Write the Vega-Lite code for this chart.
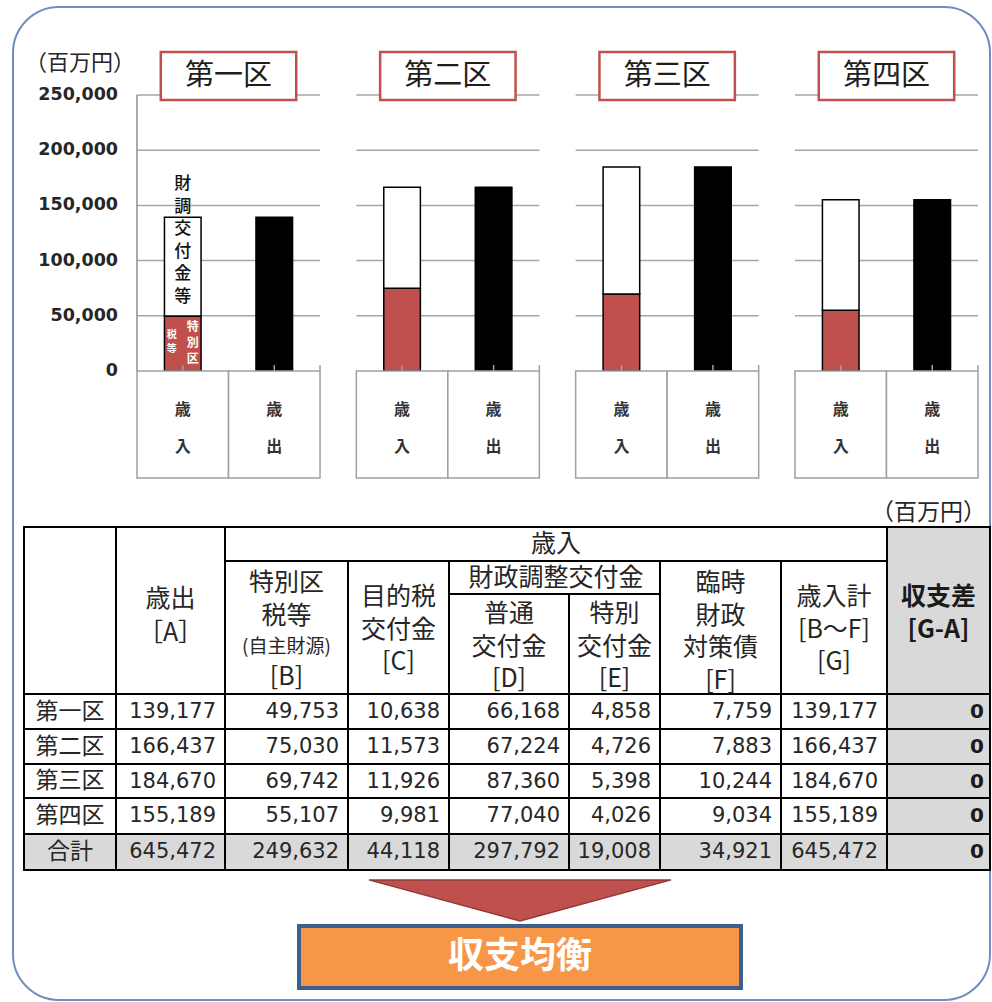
{
"$schema":"https://vega.github.io/schema/vega-lite/v6.json",
"width":977,"height":993,
"padding":{"left":13,"top":7,"right":2,"bottom":2},
"autosize":{"type":"none"},
"background":"#ffffff",
"view":{"stroke":"#6f8dbf","strokeWidth":2,"cornerRadius":46,"fill":"#ffffff"},
"config":{"text":{"font":"Noto Sans CJK JP"}},
"datasets":{
"districts":[{"区":"第一区"},{"区":"第二区"},{"区":"第三区"},{"区":"第四区"}],
"axis":[{"区":"第一区","目盛":0},{"区":"第一区","目盛":50000},{"区":"第一区","目盛":100000},{"区":"第一区","目盛":150000},{"区":"第一区","目盛":200000},{"区":"第一区","目盛":250000}],
"unit":[{"区":"第一区","単位":"（百万円）"}],
"grid":[
{"区":"第一区","目盛":50000},{"区":"第一区","目盛":100000},{"区":"第一区","目盛":150000},{"区":"第一区","目盛":200000},{"区":"第一区","目盛":250000},
{"区":"第二区","目盛":50000},{"区":"第二区","目盛":100000},{"区":"第二区","目盛":150000},{"区":"第二区","目盛":200000},{"区":"第二区","目盛":250000},
{"区":"第三区","目盛":50000},{"区":"第三区","目盛":100000},{"区":"第三区","目盛":150000},{"区":"第三区","目盛":200000},{"区":"第三区","目盛":250000},
{"区":"第四区","目盛":50000},{"区":"第四区","目盛":100000},{"区":"第四区","目盛":150000},{"区":"第四区","目盛":200000},{"区":"第四区","目盛":250000}],
"bars":[
{"区":"第一区","側":"歳入","内訳":"特別区税等","金額":49753},{"区":"第一区","側":"歳入","内訳":"財調交付金等","金額":89424},{"区":"第一区","側":"歳出","内訳":"歳出","金額":139177},
{"区":"第二区","側":"歳入","内訳":"特別区税等","金額":75030},{"区":"第二区","側":"歳入","内訳":"財調交付金等","金額":91407},{"区":"第二区","側":"歳出","内訳":"歳出","金額":166437},
{"区":"第三区","側":"歳入","内訳":"特別区税等","金額":69742},{"区":"第三区","側":"歳入","内訳":"財調交付金等","金額":114928},{"区":"第三区","側":"歳出","内訳":"歳出","金額":184670},
{"区":"第四区","側":"歳入","内訳":"特別区税等","金額":55107},{"区":"第四区","側":"歳入","内訳":"財調交付金等","金額":100082},{"区":"第四区","側":"歳出","内訳":"歳出","金額":155189}],
"boxes":[
{"区":"第一区","側":"歳入","表記":"歳\n入"},{"区":"第一区","側":"歳出","表記":"歳\n出"},
{"区":"第二区","側":"歳入","表記":"歳\n入"},{"区":"第二区","側":"歳出","表記":"歳\n出"},
{"区":"第三区","側":"歳入","表記":"歳\n入"},{"区":"第三区","側":"歳出","表記":"歳\n出"},
{"区":"第四区","側":"歳入","表記":"歳\n入"},{"区":"第四区","側":"歳出","表記":"歳\n出"}],
"labels":[
{"区":"第一区","側":"歳入","部分":"財調","注記":"財\n調\n交\n付\n金\n等"},
{"区":"第一区","側":"歳入","部分":"特別区","注記":"特\n別\n区"},
{"区":"第一区","側":"歳入","部分":"税等","注記":"税\n等"}],
"cells":[
{"c0":0,"c1":1,"r0":0,"r1":5,"種類":"空","区分":"白","文字":""},
{"c0":1,"c1":2,"r0":0,"r1":5,"種類":"見出し2","区分":"白","文字":"歳出\n［A］"},
{"c0":2,"c1":8,"r0":0,"r1":1,"種類":"見出し1","区分":"白","文字":"歳入"},
{"c0":2,"c1":3,"r0":1,"r1":5,"種類":"見出し4","区分":"白","文字":"特別区\n税等"},
{"c0":3,"c1":4,"r0":1,"r1":5,"種類":"見出し3","区分":"白","文字":"目的税\n交付金\n[C]"},
{"c0":4,"c1":6,"r0":1,"r1":2,"種類":"見出し1","区分":"白","文字":"財政調整交付金"},
{"c0":4,"c1":5,"r0":2,"r1":5,"種類":"見出し3","区分":"白","文字":"普通\n交付金\n[D]"},
{"c0":5,"c1":6,"r0":2,"r1":5,"種類":"見出し3","区分":"白","文字":"特別\n交付金\n[E]"},
{"c0":6,"c1":7,"r0":1,"r1":5,"種類":"見出し4","区分":"白","文字":"臨時\n財政\n対策債\n[F]"},
{"c0":7,"c1":8,"r0":1,"r1":5,"種類":"見出し3","区分":"白","文字":"歳入計\n[B～F]\n[G]"},
{"c0":8,"c1":9,"r0":0,"r1":5,"種類":"見出し太字","区分":"灰","文字":"収支差\n[G-A]"},
{"c0":0,"c1":1,"r0":5,"r1":6,"種類":"行名","区分":"白","文字":"第一区"},
{"c0":1,"c1":2,"r0":5,"r1":6,"種類":"数値","区分":"白","値":139177},
{"c0":2,"c1":3,"r0":5,"r1":6,"種類":"数値","区分":"白","値":49753},
{"c0":3,"c1":4,"r0":5,"r1":6,"種類":"数値","区分":"白","値":10638},
{"c0":4,"c1":5,"r0":5,"r1":6,"種類":"数値","区分":"白","値":66168},
{"c0":5,"c1":6,"r0":5,"r1":6,"種類":"数値","区分":"白","値":4858},
{"c0":6,"c1":7,"r0":5,"r1":6,"種類":"数値","区分":"白","値":7759},
{"c0":7,"c1":8,"r0":5,"r1":6,"種類":"数値","区分":"白","値":139177},
{"c0":8,"c1":9,"r0":5,"r1":6,"種類":"差","区分":"灰","値":0},
{"c0":0,"c1":1,"r0":6,"r1":7,"種類":"行名","区分":"白","文字":"第二区"},
{"c0":1,"c1":2,"r0":6,"r1":7,"種類":"数値","区分":"白","値":166437},
{"c0":2,"c1":3,"r0":6,"r1":7,"種類":"数値","区分":"白","値":75030},
{"c0":3,"c1":4,"r0":6,"r1":7,"種類":"数値","区分":"白","値":11573},
{"c0":4,"c1":5,"r0":6,"r1":7,"種類":"数値","区分":"白","値":67224},
{"c0":5,"c1":6,"r0":6,"r1":7,"種類":"数値","区分":"白","値":4726},
{"c0":6,"c1":7,"r0":6,"r1":7,"種類":"数値","区分":"白","値":7883},
{"c0":7,"c1":8,"r0":6,"r1":7,"種類":"数値","区分":"白","値":166437},
{"c0":8,"c1":9,"r0":6,"r1":7,"種類":"差","区分":"灰","値":0},
{"c0":0,"c1":1,"r0":7,"r1":8,"種類":"行名","区分":"白","文字":"第三区"},
{"c0":1,"c1":2,"r0":7,"r1":8,"種類":"数値","区分":"白","値":184670},
{"c0":2,"c1":3,"r0":7,"r1":8,"種類":"数値","区分":"白","値":69742},
{"c0":3,"c1":4,"r0":7,"r1":8,"種類":"数値","区分":"白","値":11926},
{"c0":4,"c1":5,"r0":7,"r1":8,"種類":"数値","区分":"白","値":87360},
{"c0":5,"c1":6,"r0":7,"r1":8,"種類":"数値","区分":"白","値":5398},
{"c0":6,"c1":7,"r0":7,"r1":8,"種類":"数値","区分":"白","値":10244},
{"c0":7,"c1":8,"r0":7,"r1":8,"種類":"数値","区分":"白","値":184670},
{"c0":8,"c1":9,"r0":7,"r1":8,"種類":"差","区分":"灰","値":0},
{"c0":0,"c1":1,"r0":8,"r1":9,"種類":"行名","区分":"白","文字":"第四区"},
{"c0":1,"c1":2,"r0":8,"r1":9,"種類":"数値","区分":"白","値":155189},
{"c0":2,"c1":3,"r0":8,"r1":9,"種類":"数値","区分":"白","値":55107},
{"c0":3,"c1":4,"r0":8,"r1":9,"種類":"数値","区分":"白","値":9981},
{"c0":4,"c1":5,"r0":8,"r1":9,"種類":"数値","区分":"白","値":77040},
{"c0":5,"c1":6,"r0":8,"r1":9,"種類":"数値","区分":"白","値":4026},
{"c0":6,"c1":7,"r0":8,"r1":9,"種類":"数値","区分":"白","値":9034},
{"c0":7,"c1":8,"r0":8,"r1":9,"種類":"数値","区分":"白","値":155189},
{"c0":8,"c1":9,"r0":8,"r1":9,"種類":"差","区分":"灰","値":0},
{"c0":0,"c1":1,"r0":9,"r1":10,"種類":"行名","区分":"灰","文字":"合計"},
{"c0":1,"c1":2,"r0":9,"r1":10,"種類":"数値","区分":"灰","値":645472},
{"c0":2,"c1":3,"r0":9,"r1":10,"種類":"数値","区分":"灰","値":249632},
{"c0":3,"c1":4,"r0":9,"r1":10,"種類":"数値","区分":"灰","値":44118},
{"c0":4,"c1":5,"r0":9,"r1":10,"種類":"数値","区分":"灰","値":297792},
{"c0":5,"c1":6,"r0":9,"r1":10,"種類":"数値","区分":"灰","値":19008},
{"c0":6,"c1":7,"r0":9,"r1":10,"種類":"数値","区分":"灰","値":34921},
{"c0":7,"c1":8,"r0":9,"r1":10,"種類":"数値","区分":"灰","値":645472},
{"c0":8,"c1":9,"r0":9,"r1":10,"種類":"差","区分":"灰","値":0}],
"notes":[
{"c0":2,"c1":3,"r0":1,"r1":5,"種類":"注","文字":"(自主財源)"},
{"c0":2,"c1":3,"r0":1,"r1":5,"種類":"記号","文字":"[B]"},
{"c0":9,"c1":9,"r0":0,"r1":0,"種類":"単位","文字":"（百万円）"}],
"result":[{"段":"矢印","結果":"収支均衡"},{"段":"ボタン","結果":"収支均衡"}]
},
"resolve":{"scale":{"x":"independent","y":"independent","color":"independent"},"axis":{"x":"independent","y":"independent"}},
"layer":[
{"resolve":{"scale":{"xOffset":"independent"}},
 "layer":[
 {"data":{"name":"grid"},
  "mark":{"type":"tick","color":"#a6a6a6","thickness":1.5,"size":183,"opacity":1},
  "encoding":{
   "x":{"field":"区","type":"nominal","scale":{"type":"band","domain":["第一区","第二区","第三区","第四区"],"range":[124,965],"paddingInner":0.1655,"paddingOuter":0},"axis":null},
   "y":{"field":"目盛","type":"quantitative","scale":{"type":"linear","domain":[0,250000],"range":[364,88],"nice":false,"zero":false},"axis":null}}},
 {"data":{"name":"districts"},"transform":[{"filter":{"field":"区","equal":"第一区"}}],
  "mark":{"type":"rule","color":"#8c8c8c","strokeWidth":1.5},
  "encoding":{
   "x":{"field":"区","type":"nominal","bandPosition":0,"scale":{"type":"band","domain":["第一区","第二区","第三区","第四区"],"range":[124,965],"paddingInner":0.1655,"paddingOuter":0},"axis":null},
   "y":{"datum":0,"type":"quantitative","scale":{"type":"linear","domain":[0,250000],"range":[364,88],"nice":false,"zero":false},"axis":null},
   "y2":{"datum":250000}}},
 {"data":{"name":"axis"},
  "mark":{"type":"text","font":"DejaVu Sans","fontSize":17.5,"fontWeight":"bold","color":"#262626","align":"right","baseline":"middle","dx":-19},
  "encoding":{
   "x":{"field":"区","type":"nominal","bandPosition":0,"scale":{"type":"band","domain":["第一区","第二区","第三区","第四区"],"range":[124,965],"paddingInner":0.1655,"paddingOuter":0},"axis":null},
   "y":{"field":"目盛","type":"quantitative","scale":{"type":"linear","domain":[0,250000],"range":[364,88],"nice":false,"zero":false},"axis":null},
   "text":{"field":"目盛","type":"quantitative","format":","}}},
 {"data":{"name":"unit"},
  "mark":{"type":"text","font":"Noto Sans CJK JP","fontSize":22,"color":"#262626","align":"left","baseline":"middle","dx":-112},
  "encoding":{
   "x":{"field":"区","type":"nominal","bandPosition":0,"scale":{"type":"band","domain":["第一区","第二区","第三区","第四区"],"range":[124,965],"paddingInner":0.1655,"paddingOuter":0},"axis":null},
   "y":{"datum":279000,"type":"quantitative","scale":{"type":"linear","domain":[0,250000],"range":[364,88],"nice":false,"zero":false},"axis":null},
   "text":{"field":"単位","type":"nominal"}}},
 {"data":{"name":"districts"},
  "mark":{"type":"bar","fill":"#ffffff","stroke":"#c0504d","strokeWidth":2.5,"width":{"band":0.74}},
  "encoding":{
   "x":{"field":"区","type":"nominal","scale":{"type":"band","domain":["第一区","第二区","第三区","第四区"],"range":[124,965],"paddingInner":0.1655,"paddingOuter":0},"axis":null},
   "y":{"datum":245500,"type":"quantitative","scale":{"type":"linear","domain":[0,250000],"range":[364,88],"nice":false,"zero":false},"axis":null},
   "y2":{"datum":289000}}},
 {"data":{"name":"districts"},
  "mark":{"type":"text","font":"Noto Sans CJK JP","fontSize":29,"color":"#1e1e1e","baseline":"middle"},
  "encoding":{
   "x":{"field":"区","type":"nominal","scale":{"type":"band","domain":["第一区","第二区","第三区","第四区"],"range":[124,965],"paddingInner":0.1655,"paddingOuter":0},"axis":null},
   "y":{"datum":267500,"type":"quantitative","scale":{"type":"linear","domain":[0,250000],"range":[364,88],"nice":false,"zero":false},"axis":null},
   "text":{"field":"区","type":"nominal"}}},
 {"data":{"name":"bars"},"transform":[{"filter":{"field":"側","equal":"歳入"}}],
  "mark":{"type":"bar","stroke":"#000000","strokeWidth":1.5},
  "encoding":{
   "x":{"field":"区","type":"nominal","scale":{"type":"band","domain":["第一区","第二区","第三区","第四区"],"range":[124,965],"paddingInner":0.1655,"paddingOuter":0},"axis":null},
   "xOffset":{"field":"側","type":"nominal","scale":{"type":"band","domain":["歳入","歳出"],"paddingInner":0.6,"paddingOuter":0.3}},
   "y":{"field":"金額","type":"quantitative","stack":"zero","scale":{"type":"linear","domain":[0,250000],"range":[364,88],"nice":false,"zero":false},"axis":null},
   "color":{"field":"内訳","type":"nominal","scale":{"domain":["特別区税等","財調交付金等","歳出"],"range":["#c0504d","#ffffff","#000000"]},"legend":null},
   "order":{"field":"内訳","sort":"ascending"}}},
 {"data":{"name":"bars"},"transform":[{"filter":{"field":"側","equal":"歳出"}}],
  "mark":{"type":"bar","stroke":"#000000","strokeWidth":1.5},
  "encoding":{
   "x":{"field":"区","type":"nominal","scale":{"type":"band","domain":["第一区","第二区","第三区","第四区"],"range":[124,965],"paddingInner":0.1655,"paddingOuter":0},"axis":null},
   "xOffset":{"field":"側","type":"nominal","scale":{"type":"band","domain":["歳入","歳出"],"paddingInner":0.6,"paddingOuter":0.3}},
   "y":{"field":"金額","type":"quantitative","stack":"zero","scale":{"type":"linear","domain":[0,250000],"range":[364,88],"nice":false,"zero":false},"axis":null},
   "color":{"field":"内訳","type":"nominal","scale":{"domain":["特別区税等","財調交付金等","歳出"],"range":["#c0504d","#ffffff","#000000"]},"legend":null}}},
 {"data":{"name":"boxes"},
  "mark":{"type":"rect","fill":"#ffffff","stroke":"#a0a0a0","strokeWidth":1.5},
  "encoding":{
   "x":{"field":"区","type":"nominal","scale":{"type":"band","domain":["第一区","第二区","第三区","第四区"],"range":[124,965],"paddingInner":0.1655,"paddingOuter":0},"axis":null},
   "xOffset":{"field":"側","type":"nominal","scale":{"type":"band","domain":["歳入","歳出"],"paddingInner":0,"paddingOuter":0}},
   "y":{"datum":0,"type":"quantitative","scale":{"type":"linear","domain":[0,250000],"range":[364,88],"nice":false,"zero":false},"axis":null},
   "y2":{"datum":-96900}}},
 {"data":{"name":"boxes"},
  "mark":{"type":"rule","color":"#a0a0a0","strokeWidth":1.5},
  "encoding":{
   "x":{"field":"区","type":"nominal","bandPosition":0,"scale":{"type":"band","domain":["第一区","第二区","第三区","第四区"],"range":[124,965],"paddingInner":0.1655,"paddingOuter":0},"axis":null},
   "xOffset":{"field":"側","type":"nominal","scale":{"type":"band","domain":["歳入","歳出"],"paddingInner":0,"paddingOuter":0}},
   "y":{"datum":0,"type":"quantitative","scale":{"type":"linear","domain":[0,250000],"range":[364,88],"nice":false,"zero":false},"axis":null},
   "y2":{"datum":5400}}},
 {"data":{"name":"districts"},
  "mark":{"type":"rule","color":"#a0a0a0","strokeWidth":1.5},
  "encoding":{
   "x":{"field":"区","type":"nominal","bandPosition":1,"scale":{"type":"band","domain":["第一区","第二区","第三区","第四区"],"range":[124,965],"paddingInner":0.1655,"paddingOuter":0},"axis":null},
   "y":{"datum":0,"type":"quantitative","scale":{"type":"linear","domain":[0,250000],"range":[364,88],"nice":false,"zero":false},"axis":null},
   "y2":{"datum":5400}}},
 {"data":{"name":"boxes"},
  "mark":{"type":"text","font":"Noto Sans CJK JP","fontSize":16,"fontWeight":"bold","color":"#333333","lineBreak":"\n","lineHeight":37,"baseline":"middle"},
  "encoding":{
   "x":{"field":"区","type":"nominal","scale":{"type":"band","domain":["第一区","第二区","第三区","第四区"],"range":[124,965],"paddingInner":0.1655,"paddingOuter":0},"axis":null},
   "xOffset":{"field":"側","type":"nominal","scale":{"type":"band","domain":["歳入","歳出"],"paddingInner":0,"paddingOuter":0}},
   "y":{"datum":-35300,"type":"quantitative","scale":{"type":"linear","domain":[0,250000],"range":[364,88],"nice":false,"zero":false},"axis":null},
   "text":{"field":"表記","type":"nominal"}}},
 {"data":{"name":"labels"},"transform":[{"filter":{"field":"部分","equal":"財調"}}],
  "mark":{"type":"text","font":"Noto Sans CJK JP","fontSize":17,"fontWeight":500,"color":"#111111","lineBreak":"\n","lineHeight":22.6,"baseline":"middle"},
  "encoding":{
   "x":{"field":"区","type":"nominal","scale":{"type":"band","domain":["第一区","第二区","第三区","第四区"],"range":[124,965],"paddingInner":0.1655,"paddingOuter":0},"axis":null},
   "xOffset":{"field":"側","type":"nominal","scale":{"type":"band","domain":["歳入","歳出"],"paddingInner":0,"paddingOuter":0}},
   "y":{"datum":169400,"type":"quantitative","scale":{"type":"linear","domain":[0,250000],"range":[364,88],"nice":false,"zero":false},"axis":null},
   "text":{"field":"注記","type":"nominal"}}},
 {"data":{"name":"labels"},"transform":[{"filter":{"field":"部分","equal":"特別区"}}],
  "mark":{"type":"text","font":"Noto Sans CJK JP","fontSize":12,"fontWeight":"bold","color":"#ffffff","lineBreak":"\n","lineHeight":16,"baseline":"middle","dx":10},
  "encoding":{
   "x":{"field":"区","type":"nominal","scale":{"type":"band","domain":["第一区","第二区","第三区","第四区"],"range":[124,965],"paddingInner":0.1655,"paddingOuter":0},"axis":null},
   "xOffset":{"field":"側","type":"nominal","scale":{"type":"band","domain":["歳入","歳出"],"paddingInner":0,"paddingOuter":0}},
   "y":{"datum":39800,"type":"quantitative","scale":{"type":"linear","domain":[0,250000],"range":[364,88],"nice":false,"zero":false},"axis":null},
   "text":{"field":"注記","type":"nominal"}}},
 {"data":{"name":"labels"},"transform":[{"filter":{"field":"部分","equal":"税等"}}],
  "mark":{"type":"text","font":"Noto Sans CJK JP","fontSize":10,"fontWeight":"bold","color":"#ffffff","lineBreak":"\n","lineHeight":13.6,"baseline":"middle","dx":-11},
  "encoding":{
   "x":{"field":"区","type":"nominal","scale":{"type":"band","domain":["第一区","第二区","第三区","第四区"],"range":[124,965],"paddingInner":0.1655,"paddingOuter":0},"axis":null},
   "xOffset":{"field":"側","type":"nominal","scale":{"type":"band","domain":["歳入","歳出"],"paddingInner":0,"paddingOuter":0}},
   "y":{"datum":32600,"type":"quantitative","scale":{"type":"linear","domain":[0,250000],"range":[364,88],"nice":false,"zero":false},"axis":null},
   "text":{"field":"注記","type":"nominal"}}}
]},
{"layer":[
 {"data":{"name":"cells"},
  "mark":{"type":"rect","stroke":"#000000","strokeWidth":2},
  "encoding":{
   "x":{"field":"c0","type":"quantitative","scale":{"type":"linear","domain":[0,1,2,3,4,5,6,7,8,9],"range":[11,103,212,335,436,556,647,768,874,977],"nice":false,"zero":false},"axis":null},
   "x2":{"field":"c1"},
   "y":{"field":"r0","type":"quantitative","scale":{"type":"linear","domain":[0,1,2,5,6,7,8,9,10],"range":[520,554,587,687,722,757,791,827,863],"nice":false,"zero":false},"axis":null},
   "y2":{"field":"r1"},
   "color":{"field":"区分","type":"nominal","scale":{"domain":["白","灰"],"range":["#ffffff","#d9d9d9"]},"legend":null}}},
 {"data":{"name":"cells"},"transform":[{"filter":{"field":"種類","equal":"見出し1"}},{"fold":["c0","c1"],"as":["ce","cpos"]},{"fold":["r0","r1"],"as":["re","rpos"]}],
  "mark":{"type":"text","font":"Noto Sans CJK JP","fontSize":25,"color":"#262626","baseline":"middle","dx":-13},
  "encoding":{
   "x":{"field":"cpos","aggregate":"mean","type":"quantitative","scale":{"type":"linear","domain":[0,1,2,3,4,5,6,7,8,9],"range":[11,103,212,335,436,556,647,768,874,977],"nice":false,"zero":false},"axis":null},
   "y":{"field":"rpos","aggregate":"mean","type":"quantitative","scale":{"type":"linear","domain":[0,1,2,5,6,7,8,9,10],"range":[520,554,587,687,722,757,791,827,863],"nice":false,"zero":false},"axis":null},
   "text":{"field":"文字","type":"nominal"}}},
 {"data":{"name":"cells"},"transform":[{"filter":{"field":"種類","equal":"見出し2"}},{"fold":["c0","c1"],"as":["ce","cpos"]},{"fold":["r0","r1"],"as":["re","rpos"]}],
  "mark":{"type":"text","font":"Noto Sans CJK JP","fontSize":25,"color":"#262626","lineBreak":"\n","lineHeight":34,"baseline":"middle","dy":-12},
  "encoding":{
   "x":{"field":"cpos","aggregate":"mean","type":"quantitative","scale":{"type":"linear","domain":[0,1,2,3,4,5,6,7,8,9],"range":[11,103,212,335,436,556,647,768,874,977],"nice":false,"zero":false},"axis":null},
   "y":{"field":"rpos","aggregate":"mean","type":"quantitative","scale":{"type":"linear","domain":[0,1,2,5,6,7,8,9,10],"range":[520,554,587,687,722,757,791,827,863],"nice":false,"zero":false},"axis":null},
   "text":{"field":"文字","type":"nominal"}}},
 {"data":{"name":"cells"},"transform":[{"filter":{"field":"種類","equal":"見出し3"}},{"fold":["c0","c1"],"as":["ce","cpos"]},{"fold":["r0","r1"],"as":["re","rpos"]}],
  "mark":{"type":"text","font":"Noto Sans CJK JP","fontSize":25,"color":"#262626","lineBreak":"\n","lineHeight":32.5,"baseline":"middle","dy":-30},
  "encoding":{
   "x":{"field":"cpos","aggregate":"mean","type":"quantitative","scale":{"type":"linear","domain":[0,1,2,3,4,5,6,7,8,9],"range":[11,103,212,335,436,556,647,768,874,977],"nice":false,"zero":false},"axis":null},
   "y":{"field":"rpos","aggregate":"mean","type":"quantitative","scale":{"type":"linear","domain":[0,1,2,5,6,7,8,9,10],"range":[520,554,587,687,722,757,791,827,863],"nice":false,"zero":false},"axis":null},
   "text":{"field":"文字","type":"nominal"}}},
 {"data":{"name":"cells"},"transform":[{"filter":{"field":"種類","equal":"見出し4"}},{"fold":["c0","c1"],"as":["ce","cpos"]},{"fold":["r0","r1"],"as":["re","rpos"]}],
  "mark":{"type":"text","font":"Noto Sans CJK JP","fontSize":25,"color":"#262626","lineBreak":"\n","lineHeight":32.5,"baseline":"middle","dy":-44},
  "encoding":{
   "x":{"field":"cpos","aggregate":"mean","type":"quantitative","scale":{"type":"linear","domain":[0,1,2,3,4,5,6,7,8,9],"range":[11,103,212,335,436,556,647,768,874,977],"nice":false,"zero":false},"axis":null},
   "y":{"field":"rpos","aggregate":"mean","type":"quantitative","scale":{"type":"linear","domain":[0,1,2,5,6,7,8,9,10],"range":[520,554,587,687,722,757,791,827,863],"nice":false,"zero":false},"axis":null},
   "text":{"field":"文字","type":"nominal"}}},
 {"data":{"name":"cells"},"transform":[{"filter":{"field":"種類","equal":"見出し太字"}},{"fold":["c0","c1"],"as":["ce","cpos"]},{"fold":["r0","r1"],"as":["re","rpos"]}],
  "mark":{"type":"text","font":"Noto Sans CJK JP","fontSize":25,"fontWeight":"bold","color":"#1a1a1a","lineBreak":"\n","lineHeight":33,"baseline":"middle","dy":-14},
  "encoding":{
   "x":{"field":"cpos","aggregate":"mean","type":"quantitative","scale":{"type":"linear","domain":[0,1,2,3,4,5,6,7,8,9],"range":[11,103,212,335,436,556,647,768,874,977],"nice":false,"zero":false},"axis":null},
   "y":{"field":"rpos","aggregate":"mean","type":"quantitative","scale":{"type":"linear","domain":[0,1,2,5,6,7,8,9,10],"range":[520,554,587,687,722,757,791,827,863],"nice":false,"zero":false},"axis":null},
   "text":{"field":"文字","type":"nominal"}}},
 {"data":{"name":"notes"},"transform":[{"filter":{"field":"種類","equal":"注"}},{"fold":["c0","c1"],"as":["ce","cpos"]},{"fold":["r0","r1"],"as":["re","rpos"]}],
  "mark":{"type":"text","font":"Noto Sans CJK JP","fontSize":19,"color":"#262626","baseline":"middle","dy":19.5},
  "encoding":{
   "x":{"field":"cpos","aggregate":"mean","type":"quantitative","scale":{"type":"linear","domain":[0,1,2,3,4,5,6,7,8,9],"range":[11,103,212,335,436,556,647,768,874,977],"nice":false,"zero":false},"axis":null},
   "y":{"field":"rpos","aggregate":"mean","type":"quantitative","scale":{"type":"linear","domain":[0,1,2,5,6,7,8,9,10],"range":[520,554,587,687,722,757,791,827,863],"nice":false,"zero":false},"axis":null},
   "text":{"field":"文字","type":"nominal"}}},
 {"data":{"name":"notes"},"transform":[{"filter":{"field":"種類","equal":"記号"}},{"fold":["c0","c1"],"as":["ce","cpos"]},{"fold":["r0","r1"],"as":["re","rpos"]}],
  "mark":{"type":"text","font":"Noto Sans CJK JP","fontSize":25,"color":"#262626","baseline":"middle","dy":50},
  "encoding":{
   "x":{"field":"cpos","aggregate":"mean","type":"quantitative","scale":{"type":"linear","domain":[0,1,2,3,4,5,6,7,8,9],"range":[11,103,212,335,436,556,647,768,874,977],"nice":false,"zero":false},"axis":null},
   "y":{"field":"rpos","aggregate":"mean","type":"quantitative","scale":{"type":"linear","domain":[0,1,2,5,6,7,8,9,10],"range":[520,554,587,687,722,757,791,827,863],"nice":false,"zero":false},"axis":null},
   "text":{"field":"文字","type":"nominal"}}},
 {"data":{"name":"notes"},"transform":[{"filter":{"field":"種類","equal":"単位"}}],
  "mark":{"type":"text","font":"Noto Sans CJK JP","fontSize":23,"color":"#262626","baseline":"middle","align":"right","dx":-4,"dy":-14},
  "encoding":{
   "x":{"field":"c1","type":"quantitative","scale":{"type":"linear","domain":[0,1,2,3,4,5,6,7,8,9],"range":[11,103,212,335,436,556,647,768,874,977],"nice":false,"zero":false},"axis":null},
   "y":{"field":"r0","type":"quantitative","scale":{"type":"linear","domain":[0,1,2,5,6,7,8,9,10],"range":[520,554,587,687,722,757,791,827,863],"nice":false,"zero":false},"axis":null},
   "text":{"field":"文字","type":"nominal"}}},
 {"data":{"name":"cells"},"transform":[{"filter":{"field":"種類","equal":"行名"}},{"fold":["c0","c1"],"as":["ce","cpos"]},{"fold":["r0","r1"],"as":["re","rpos"]}],
  "mark":{"type":"text","font":"Noto Sans CJK JP","fontSize":23,"color":"#262626","baseline":"middle"},
  "encoding":{
   "x":{"field":"cpos","aggregate":"mean","type":"quantitative","scale":{"type":"linear","domain":[0,1,2,3,4,5,6,7,8,9],"range":[11,103,212,335,436,556,647,768,874,977],"nice":false,"zero":false},"axis":null},
   "y":{"field":"rpos","aggregate":"mean","type":"quantitative","scale":{"type":"linear","domain":[0,1,2,5,6,7,8,9,10],"range":[520,554,587,687,722,757,791,827,863],"nice":false,"zero":false},"axis":null},
   "text":{"field":"文字","type":"nominal"}}},
 {"data":{"name":"cells"},"transform":[{"filter":{"field":"種類","equal":"数値"}}],
  "mark":{"type":"text","font":"DejaVu Sans","fontSize":21,"color":"#262626","baseline":"middle","align":"right","dx":-9,"dy":17.5},
  "encoding":{
   "x":{"field":"c1","type":"quantitative","scale":{"type":"linear","domain":[0,1,2,3,4,5,6,7,8,9],"range":[11,103,212,335,436,556,647,768,874,977],"nice":false,"zero":false},"axis":null},
   "y":{"field":"r0","type":"quantitative","scale":{"type":"linear","domain":[0,1,2,5,6,7,8,9,10],"range":[520,554,587,687,722,757,791,827,863],"nice":false,"zero":false},"axis":null},
   "text":{"field":"値","type":"quantitative","format":","}}},
 {"data":{"name":"cells"},"transform":[{"filter":{"field":"種類","equal":"差"}}],
  "mark":{"type":"text","font":"DejaVu Sans","fontSize":20,"fontWeight":"bold","color":"#1a1a1a","baseline":"middle","align":"right","dx":-6,"dy":17.5},
  "encoding":{
   "x":{"field":"c1","type":"quantitative","scale":{"type":"linear","domain":[0,1,2,3,4,5,6,7,8,9],"range":[11,103,212,335,436,556,647,768,874,977],"nice":false,"zero":false},"axis":null},
   "y":{"field":"r0","type":"quantitative","scale":{"type":"linear","domain":[0,1,2,5,6,7,8,9,10],"range":[520,554,587,687,722,757,791,827,863],"nice":false,"zero":false},"axis":null},
   "text":{"field":"値","type":"quantitative","format":","}}}
]},
{"layer":[
 {"data":{"name":"result"},"transform":[{"filter":{"field":"段","equal":"矢印"}}],
  "mark":{"type":"point","shape":"M -1 -0.1 L 1 -0.1 L 0 0.172 Z","size":91204,"filled":true,"color":"#c0504d","stroke":"#8e3b39","strokeWidth":1.5,"opacity":1},
  "encoding":{
   "x":{"field":"結果","type":"nominal","scale":{"type":"band","domain":["収支均衡"],"range":[286,728],"paddingInner":0,"paddingOuter":0},"axis":null},
   "y":{"field":"段","type":"nominal","scale":{"type":"band","domain":["矢印","ボタン"],"range":[857,981],"paddingInner":0,"paddingOuter":0},"axis":null}}},
 {"data":{"name":"result"},"transform":[{"filter":{"field":"段","equal":"ボタン"}}],
  "mark":{"type":"rect","fill":"#f79646","stroke":"#3a5f8f","strokeWidth":4},
  "encoding":{
   "x":{"field":"結果","type":"nominal","scale":{"type":"band","domain":["収支均衡"],"range":[286,728],"paddingInner":0,"paddingOuter":0},"axis":null},
   "y":{"field":"段","type":"nominal","scale":{"type":"band","domain":["矢印","ボタン"],"range":[857,981],"paddingInner":0,"paddingOuter":0},"axis":null}}},
 {"data":{"name":"result"},"transform":[{"filter":{"field":"段","equal":"ボタン"}}],
  "mark":{"type":"text","font":"Noto Sans CJK JP","fontSize":36,"fontWeight":"bold","color":"#ffffff","baseline":"middle"},
  "encoding":{
   "x":{"field":"結果","type":"nominal","scale":{"type":"band","domain":["収支均衡"],"range":[286,728],"paddingInner":0,"paddingOuter":0},"axis":null},
   "y":{"field":"段","type":"nominal","scale":{"type":"band","domain":["矢印","ボタン"],"range":[857,981],"paddingInner":0,"paddingOuter":0},"axis":null},
   "text":{"field":"結果","type":"nominal"}}}
]}
]
}
